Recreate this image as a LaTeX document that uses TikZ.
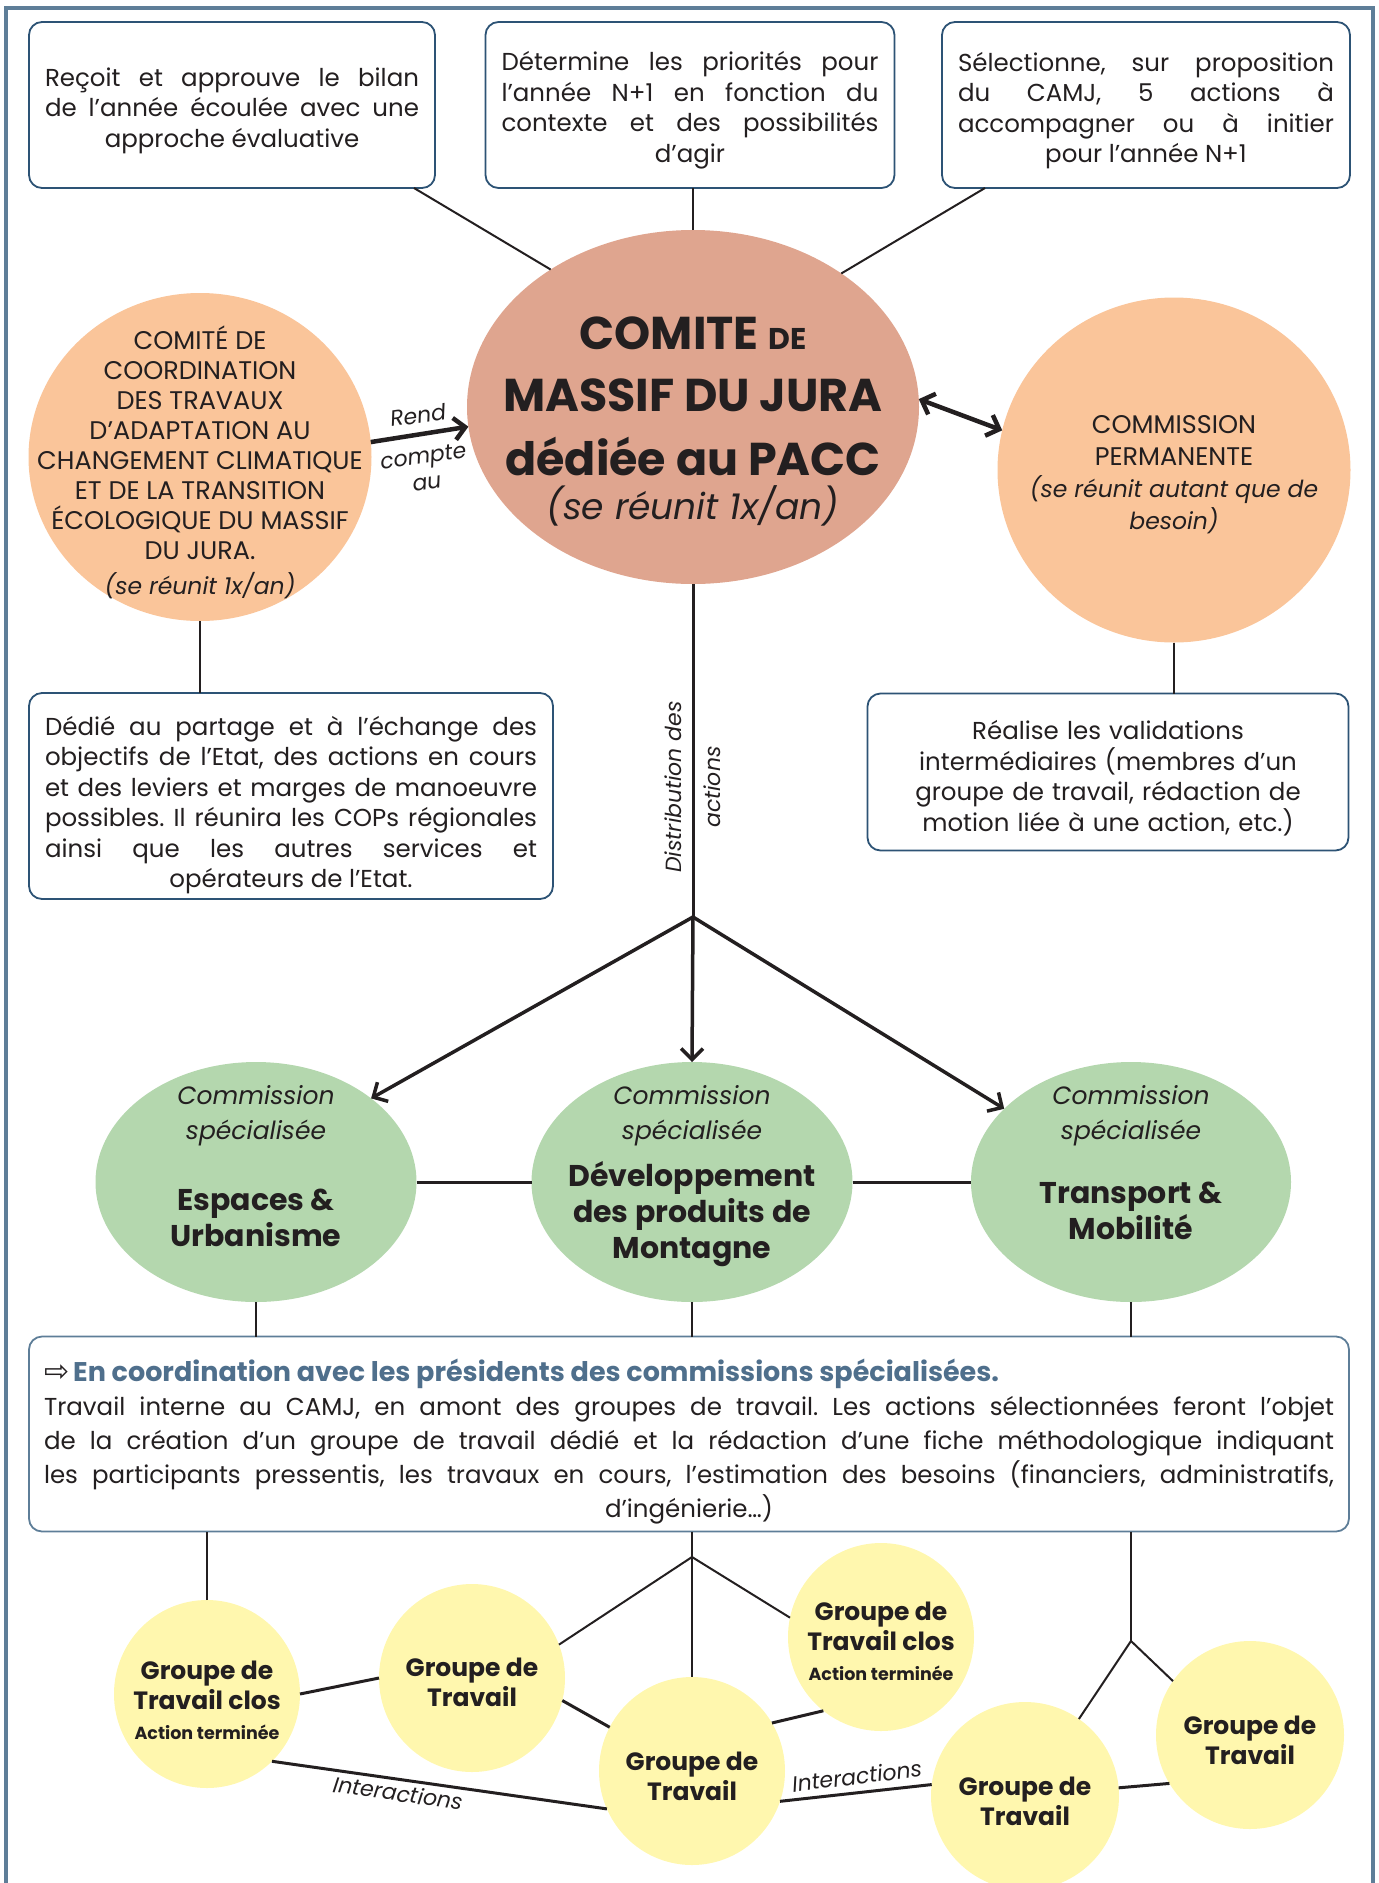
\documentclass[tikz,border=0pt]{standalone}
\usepackage{fontspec}
\setmainfont{Poppins}
\newfontfamily\symfont{DejaVu Sans}
\usetikzlibrary{shapes.geometric,arrows.meta,calc}
\frenchspacing

\definecolor{framecol}{HTML}{5E7E98}
\definecolor{boxcol}{HTML}{2D5375}
\definecolor{headcol}{HTML}{4F6F8C}
\definecolor{maincol}{HTML}{DFA58F}
\definecolor{peach}{HTML}{FAC59A}
\definecolor{sage}{HTML}{B4D7AE}
\definecolor{lemon}{HTML}{FFF7AE}
\definecolor{ink}{HTML}{231F20}

% justified paragraph, last line centred
\newcommand{\lastcentre}{\leftskip=0pt plus 1fil\rightskip=0pt plus -1fil\parfillskip=0pt plus 2fil\relax}

\tikzset{
  infobox/.style={draw=boxcol, line width=1.8pt, rounded corners=13pt, fill=white, text=ink,
    inner xsep=16pt, align=justify, font=\fontsize{24.5}{30.5}\selectfont},
  droptext/.style={execute at begin node={\rule{0pt}{#1}}},
  blob/.style={ellipse, draw=none},
  circtxt/.style={align=center, text=ink, font=\fontsize{25.5}{30}\selectfont},
  gsub/.style={align=center, text=ink, font=\fontsize{25}{35}\selectfont\itshape},
  gtitle/.style={align=center, text=ink, font=\fontsize{30}{36}\selectfont\bfseries},
  ytxt/.style={align=center, text=ink, font=\fontsize{25}{30}\selectfont\bfseries},
  note/.style={align=center, text=ink, font=\fontsize{22}{30}\selectfont\itshape},
  link/.style={draw=ink, line width=2pt},
  thickline/.style={draw=ink, line width=3pt},
  bigarrow/.style={draw=ink, line width=4.5pt, -{Straight Barb[length=11pt, width=22pt]}},
  distarrow/.style={draw=ink, line width=3.5pt, -{Straight Barb[length=11pt, width=22pt]}}
}

\begin{document}
\begin{tikzpicture}[y=1pt, x=1pt, yscale=-1, inner sep=0pt, outer sep=0pt]

  \useasboundingbox (0,0) rectangle (1379,1883);
  \path[draw=framecol, line width=3.5pt] (6,8) rectangle (1373,1920);

  % top boxes
  \path (232,105) node[infobox, droptext=30pt, text width=374pt, minimum height=166pt] (bilan)
    {\lastcentre Reçoit et approuve le bilan\linebreak de l’année écoulée avec une\linebreak approche évaluative\par};
  \path (690,105) node[infobox, droptext=30pt, text width=377pt, minimum height=166pt] (prio)
    {\lastcentre Détermine les priorités pour\linebreak l’année N+1 en fonction du\linebreak contexte et des possibilités\linebreak d’agir\par};
  \path (1146,105) node[infobox, droptext=30pt, text width=376pt, minimum height=166pt] (select)
    {\lastcentre Sélectionne, sur proposition\linebreak du CAMJ, 5 actions à\linebreak accompagner ou à initier\linebreak pour l’année N+1\par};

  % comite de massif
  \path (693,407) node[blob, fill=maincol, minimum width=452pt, minimum height=354pt] (comite) {};
  \path (693,333) node[text=ink, font=\fontsize{46}{50}\selectfont\bfseries] (comite1) {COMITE {\fontsize{30}{30}\selectfont DE}};
  \path (693,395) node[text=ink, font=\fontsize{46}{50}\selectfont\bfseries] (comite2) {MASSIF DU JURA};
  \path (693,456) node[text=ink, font=\fontsize{46}{50}\selectfont\bfseries] (comite3) {dédiée au PACC};
  \path (693,506) node[text=ink, font=\fontsize{36}{40}\selectfont\itshape] (comite4) {(se réunit 1x/an)};

  \draw[link] (bilan.south east) ++(-21,0) coordinate (bilanfoot) -- (comite.136);
  \draw[link] (comite.north) -- (comite.north |- prio.south);
  \draw[link] (select.south west) ++(43,0) coordinate (selectfoot) -- (comite.42);

  % comite de coordination
  \path (200,457) node[blob, fill=peach, minimum width=343pt, minimum height=328pt] (coord) {};
  \path (200,462) node[circtxt] (coordtxt)
    {COMITÉ DE\\COORDINATION\\DES TRAVAUX\\D’ADAPTATION AU\\CHANGEMENT CLIMATIQUE\\ET DE LA TRANSITION\\ÉCOLOGIQUE DU MASSIF\\DU JURA.\\[5pt]{\fontsize{23.5}{30}\selectfont\itshape (se réunit 1x/an)}};

  \draw[bigarrow] (coord.5) -- (comite.185);
  \path (418,415) node[note, rotate=8] (rend) {Rend};
  \path (425,469) node[note, font=\fontsize{22}{26}\selectfont\itshape, rotate=8] (compte) {compte\\au};

  % commission permanente
  \path (1174,470) node[blob, fill=peach, minimum width=353pt, minimum height=345pt] (perm) {};
  \path (1174,475) node[circtxt, font=\fontsize{25.5}{32}\selectfont] (permtxt)
    {COMMISSION\\PERMANENTE\\{\fontsize{23.5}{30}\selectfont\itshape (se réunit autant que de}\\{\fontsize{23.5}{30}\selectfont\itshape besoin)}};

  \draw[bigarrow, {Straight Barb[length=11pt, width=22pt]}-{Straight Barb[length=11pt, width=22pt]}] (comite.2) -- (perm.167);

  % boxes under the circles
  \path (291,796) node[infobox, droptext=37pt, text width=492pt, minimum height=206pt] (partage)
    {\lastcentre Dédié au partage et à l’échange des\linebreak objectifs de l’Etat, des actions en cours\linebreak et des leviers et marges de manoeuvre\linebreak possibles. Il réunira les COPs régionales\linebreak ainsi que les autres services et\linebreak opérateurs de l’Etat.\par};
  \path (1108,772) node[infobox, droptext=32pt, align=center, text width=449pt, minimum height=157pt] (valid)
    {Réalise les validations\\intermédiaires (membres d’un\\groupe de travail, rédaction de\\motion liée à une action, etc.)};

  \draw[link] (coord.south) -- (coord.south |- partage.north);
  \draw[link] (perm.south) -- (perm.south |- valid.north);

  % distribution des actions
  \coordinate (split) at (693,917);
  \path (693,787) node[note, font=\fontsize{22}{39}\selectfont\itshape, rotate=90] (distrib) {Distribution des\\actions};

  % commissions specialisees
  \path (256,1182) node[blob, fill=sage, minimum width=321pt, minimum height=240pt] (espaces) {};
  \path (692,1182) node[blob, fill=sage, minimum width=321pt, minimum height=240pt] (montagne) {};
  \path (1131,1182) node[blob, fill=sage, minimum width=320pt, minimum height=240pt] (transport) {};

  \path (256,1116) node[gsub] (espacessub) {Commission\\spécialisée};
  \path (692,1116) node[gsub] (montagnesub) {Commission\\spécialisée};
  \path (1131,1116) node[gsub] (transportsub) {Commission\\spécialisée};
  \path (256,1218) node[gtitle] (espacestxt) {Espaces \&\\Urbanisme};
  \path (692,1214) node[gtitle] (montagnetxt) {Développement\\des produits de\\Montagne};
  \path (1131,1211) node[gtitle] (transporttxt) {Transport \&\\Mobilité};

  \draw[thickline] (comite.south) -- (split);
  \draw[distarrow] (split) -- (espaces.36);
  \draw[distarrow] (split) -- (montagne.north);
  \draw[distarrow] (split) -- (transport.150);

  \draw[thickline] (espaces.east) -- (montagne.west);
  \draw[thickline] (montagne.east) -- (transport.west);

  % coordination box
  \path (689,1434) node[infobox, droptext=38pt, draw=framecol, inner xsep=15pt, text width=1290pt, minimum height=195pt,
    font=\fontsize{24.5}{34}\selectfont] (presid)
    {{\color{ink}\symfont\fontsize{30}{34}\selectfont ⇨}\,{\color{headcol}\fontsize{27}{34}\selectfont\bfseries En coordination avec les présidents des commissions spécialisées.}\par
     \lastcentre Travail interne au CAMJ, en amont des groupes de travail. Les actions sélectionnées feront l’objet\linebreak de la création d’un groupe de travail dédié et la rédaction d’une fiche méthodologique indiquant\linebreak les participants pressentis, les travaux en cours, l’estimation des besoins (financiers, administratifs,\linebreak d’ingénierie…)\par};

  \draw[link] (espaces.south) -- (espaces.south |- presid.north);
  \draw[link] (montagne.south) -- (montagne.south |- presid.north);
  \draw[link] (transport.south) -- (transport.south |- presid.north);

  % groupes de travail
  \path (207,1694) node[blob, fill=lemon, minimum width=186pt, minimum height=188pt] (clos1) {};
  \path (472,1678) node[blob, fill=lemon, minimum width=186pt, minimum height=188pt] (groupe1) {};
  \path (692,1771) node[blob, fill=lemon, minimum width=186pt, minimum height=188pt] (groupe2) {};
  \path (881,1637) node[blob, fill=lemon, minimum width=186pt, minimum height=188pt] (clos2) {};
  \path (1025,1796) node[blob, fill=lemon, minimum width=188pt, minimum height=188pt] (groupe3) {};
  \path (1250,1735) node[blob, fill=lemon, minimum width=188pt, minimum height=188pt] (groupe4) {};

  \path (207,1700) node[ytxt] (clos1txt) {Groupe de\\Travail clos\\{\fontsize{17.5}{20}\selectfont Action terminée}};
  \path (472,1682) node[ytxt] (groupe1txt) {Groupe de\\Travail};
  \path (692,1776) node[ytxt] (groupe2txt) {Groupe de\\Travail};
  \path (881,1641) node[ytxt] (clos2txt) {Groupe de\\Travail clos\\{\fontsize{17.5}{20}\selectfont Action terminée}};
  \path (1025,1801) node[ytxt] (groupe3txt) {Groupe de\\Travail};
  \path (1250,1740) node[ytxt] (groupe4txt) {Groupe de\\Travail};

  \coordinate (hubmid) at (692,1557);
  \coordinate (hubright) at (1131,1641);

  \draw[link] (clos1.north) -- (clos1.north |- presid.south);
  \draw[link] (montagne.south |- presid.south) -- (hubmid);
  \draw[link] (hubmid) -- (groupe1.21);
  \draw[link] (hubmid) -- (clos2.168);
  \draw[link] (hubmid) -- (groupe2.north);
  \draw[link] (transport.south |- presid.south) -- (hubright);
  \draw[link] (hubright) -- (groupe3.55);
  \draw[link] (hubright) -- (groupe4.145);

  \draw[thickline] (clos1.east) -- (groupe1.west);
  \draw[thickline] (groupe1.-14) -- (groupe2.152);
  \draw[thickline] (groupe2.31) -- (clos2.232);
  \draw[thickline] (groupe3.5) -- (groupe4.211);
  \draw[thickline] (clos1.-46) -- (groupe2.204);
  \draw[thickline] (groupe2.-19) -- (groupe3.173);
  \path (398,1793) node[note, rotate=-8] (inter1) {Interactions};
  \path (857,1776) node[note, rotate=7] (inter2) {Interactions};

\end{tikzpicture}
\end{document}
